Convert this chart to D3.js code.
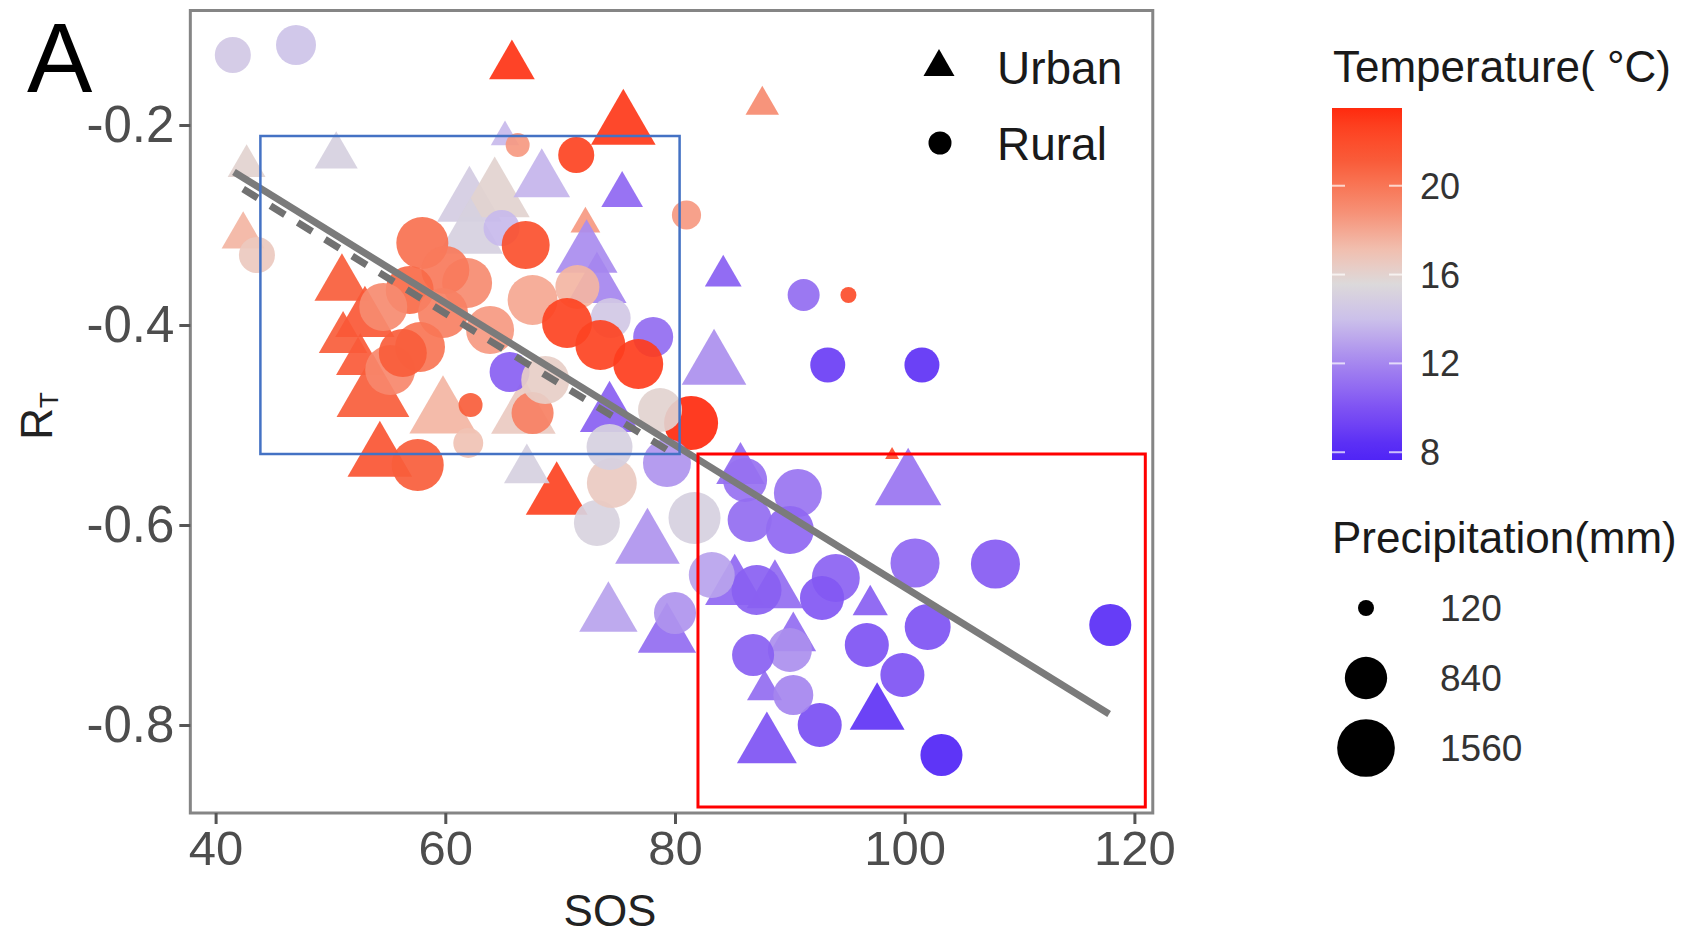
<!DOCTYPE html>
<meta charset="utf-8">
<style>
body { margin: 0; background: #fff; }
text { font-family: "Liberation Sans", Arial, sans-serif; }
.tick-label { fill: #4d4d4d; }
</style>
<body>
<div id="chart"></div>
<script src="https://d3js.org/d3.v7.min.js"></script>
<script>
// ---- data ----
// urban sites (triangles)
var urbanSos    = [65.8, 42.7, 50.5, 42.4, 65.2, 75.5, 75.4, 84.2, 83.4, 87.6, 98.9, 100.3, 97.6, 88.0, 90.3, 87.8, 97.0, 85.2, 88.7, 69.7,
                   77.6, 74.2, 79.3, 74.3, 62.1, 64.3, 68.4, 62.2, 72.2, 72.3, 73.2, 59.8, 51.0, 51.1, 52.6, 54.3, 53.7, 67.1, 66.8, 85.7, 53.0];
var urbanRt     = [-0.141, -0.241, -0.231, -0.311, -0.212, -0.201, -0.270, -0.351, -0.441, -0.180, -0.530, -0.561, -0.789, -0.821, -0.713, -0.765, -0.680, -0.663, -0.667, -0.572,
                   -0.620, -0.690, -0.711, -0.490, -0.278, -0.272, -0.256, -0.310, -0.299, -0.330, -0.361, -0.489, -0.360, -0.414, -0.436, -0.533, -0.471, -0.545, -0.490, -0.545, -0.395];
var urbanTemp   = [23.2, 16.0, 15.0, 17.5, 13.8, 23.0, 10.8, 10.5, 12.3, 19.0, 22.0, 11.3, 8.6, 10.0, 11.0, 11.0, 10.5, 10.8, 11.0, 22.5,
                   12.5, 13.0, 11.0, 10.5, 14.8, 16.0, 13.6, 15.0, 18.5, 12.2, 12.0, 17.5, 21.0, 21.0, 21.2, 21.5, 21.0, 15.0, 16.5, 11.0, 21.3];
var urbanPrecip = [540, 370, 480, 480, 210, 1080, 450, 350, 1080, 290, 50, 1140, 780, 930, 540, 320, 320, 910, 830, 990,
                   1080, 880, 880, 910, 1080, 1270, 830, 1080, 230, 990, 910, 1170, 780, 610, 610, 1080, 1370, 540, 1080, 610, 910];

// rural sites (circles)
var ruralSos    = [41.5, 47.0, 43.6, 66.3, 71.4, 81.0, 95.1, 91.2, 93.3, 101.5, 90.7, 100.9, 107.9, 117.9, 102.0, 96.7, 99.8, 103.2, 92.6, 90.3,
                   90.0, 86.8, 94.0, 92.8, 86.1, 90.0, 87.1, 86.5, 83.2, 81.7, 73.2, 74.5, 80.0, 81.4, 67.6, 78.7, 79.3, 74.3, 78.1, 65.6,
                   64.9, 74.4, 68.7, 67.0, 58.0, 71.5, 67.6, 61.9, 60.0, 56.9, 54.6, 59.8, 63.9, 55.2, 57.8, 56.3, 57.6, 62.2, 62.0, 70.6, 73.5, 76.8];
var ruralRt     = [-0.130, -0.120, -0.330, -0.220, -0.230, -0.290, -0.370, -0.370, -0.440, -0.440, -0.568, -0.638, -0.639, -0.700, -0.702, -0.720, -0.750, -0.830, -0.800, -0.770,
                   -0.725, -0.730, -0.653, -0.673, -0.555, -0.605, -0.665, -0.595, -0.650, -0.593, -0.598, -0.558, -0.688, -0.498, -0.488, -0.485, -0.538, -0.522, -0.412, -0.447,
                   -0.303, -0.393, -0.455, -0.320, -0.318, -0.362, -0.375, -0.358, -0.345, -0.365, -0.382, -0.388, -0.405, -0.445, -0.422, -0.428, -0.540, -0.480, -0.518, -0.398, -0.420, -0.439];
var ruralTemp   = [14.5, 14.2, 16.6, 18.5, 22.5, 18.5, 22.0, 11.0, 9.0, 8.5, 11.3, 10.8, 10.3, 8.3, 10.0, 10.0, 10.0, 8.0, 9.8, 12.0,
                   12.3, 10.5, 10.6, 10.2, 11.2, 10.8, 10.5, 11.0, 13.0, 15.0, 15.2, 16.5, 12.5, 23.5, 19.5, 16.0, 12.5, 15.0, 11.0, 10.5,
                   13.8, 14.5, 16.3, 21.8, 20.2, 17.5, 18.0, 19.0, 19.8, 20.5, 19.0, 19.5, 18.5, 19.2, 20.0, 21.0, 21.0, 21.0, 17.0, 22.5, 22.5, 22.8];
var ruralPrecip = [610, 750, 610, 270, 610, 400, 120, 480, 575, 575, 1080, 1130, 1130, 830, 990, 910, 910, 830, 910, 750,
                   910, 830, 1080, 910, 910, 1080, 1170, 910, 990, 1270, 990, 1170, 830, 1370, 830, 910, 1080, 990, 750, 750,
                   610, 750, 1080, 1080, 1270, 910, 1170, 1170, 1080, 1080, 1080, 1170, 1080, 1170, 1170, 1080, 1270, 270, 420, 1170, 1170, 1170];

// fitted lines: all sites (solid) and the blue-box subset (dashed)
var fitAllSos = [41.6, 117.8];
var fitAllRt  = [-0.247, -0.789];
var fitSubSos = [42.4, 80.2];
var fitSubRt  = [-0.264, -0.531];

// highlight boxes
var blueBoxSos = [43.9, 80.4];
var blueBoxRt  = [-0.211, -0.529];
var redBoxSos  = [82.0, 120.95];
var redBoxRt   = [-0.529, -0.882];

var xTicks = [40, 60, 80, 100, 120];
var yTicks = [-0.8, -0.6, -0.4, -0.2];
var tempTicks = [8, 12, 16, 20];
var tempRange = [7.65, 23.5];
var precipBreaks = [120, 840, 1560];
var shapeLabels = ["Urban", "Rural"];

// ---- scales ----
var x = d3.scaleLinear().domain([40, 120]).range([215.6, 1134.4]);
var y = d3.scaleLinear().domain([-0.2, -0.8]).range([125, 725]);
var xLim = [37.8, 121.6], yLim = [-0.0855, -0.888];

var color = d3.scaleLinear()
    .domain([8, 10, 12, 14, 15.6, 17, 19, 21, 23.5])
    .range(["#5024f6", "#7e52f3", "#a586ef", "#cbc0ea", "#dcd9da", "#f0c2b4", "#f68b70", "#f95d3b", "#ff2a0e"])
    .interpolate(d3.interpolateLab)
    .clamp(true);
var rScale = d3.scaleSqrt().domain([0, 1600]).range([0, 29.2]);

var svg = d3.select("#chart").append("svg")
    .attr("width", 1688).attr("height", 934)
    .style("background", "#fff");

// panel label
svg.append("text").attr("x", 27).attr("y", 92)
    .style("font-size", "98px").attr("fill", "#000").text("A");

// ---- points ----
var urban = urbanSos.map(function(d, i) {
  return {sos: d, rt: urbanRt[i], temp: urbanTemp[i], p: urbanPrecip[i]};
});
var rural = ruralSos.map(function(d, i) {
  return {sos: d, rt: ruralRt[i], temp: ruralTemp[i], p: ruralPrecip[i]};
});

var pts = svg.append("g").attr("class", "points");
pts.selectAll("path.urban").data(urban).enter().append("path")
    .attr("class", "urban")
    .attr("transform", function(d) { return "translate(" + x(d.sos) + "," + y(d.rt) + ")"; })
    .attr("d", function(d) {
      var r = rScale(d.p);
      return d3.symbol().type(d3.symbolTriangle).size(Math.PI * r * r)();
    })
    .attr("fill", function(d) { return color(d.temp); })
    .attr("fill-opacity", 0.92);

pts.selectAll("circle.rural").data(rural).enter().append("circle")
    .attr("class", "rural")
    .attr("cx", function(d) { return x(d.sos); })
    .attr("cy", function(d) { return y(d.rt); })
    .attr("r", function(d) { return rScale(d.p); })
    .attr("fill", function(d) { return color(d.temp); })
    .attr("fill-opacity", 0.92);

// ---- fitted lines ----
var line = d3.line().x(function(d) { return x(d[0]); }).y(function(d) { return y(d[1]); });
svg.append("path")
    .datum(d3.zip(fitSubSos, fitSubRt))
    .attr("d", line).attr("fill", "none")
    .attr("stroke", "#717171").attr("stroke-width", 7)
    .attr("stroke-dasharray", "17,15");
svg.append("path")
    .datum(d3.zip(fitAllSos, fitAllRt))
    .attr("d", line).attr("fill", "none")
    .attr("stroke", "#7b7b7b").attr("stroke-width", 7);

// ---- highlight boxes ----
svg.append("rect")
    .attr("x", x(blueBoxSos[0])).attr("y", y(blueBoxRt[0]))
    .attr("width", x(blueBoxSos[1]) - x(blueBoxSos[0]))
    .attr("height", y(blueBoxRt[1]) - y(blueBoxRt[0]))
    .attr("fill", "none").attr("stroke", "#4472c4").attr("stroke-width", 2.5);
svg.append("rect")
    .attr("x", x(redBoxSos[0])).attr("y", y(redBoxRt[0]))
    .attr("width", x(redBoxSos[1]) - x(redBoxSos[0]))
    .attr("height", y(redBoxRt[1]) - y(redBoxRt[0]))
    .attr("fill", "none").attr("stroke", "#ff0000").attr("stroke-width", 3);

// ---- panel border and axes ----
svg.append("rect")
    .attr("x", x(xLim[0])).attr("y", y(yLim[0]))
    .attr("width", x(xLim[1]) - x(xLim[0]))
    .attr("height", y(yLim[1]) - y(yLim[0]))
    .attr("fill", "none").attr("stroke", "#858585").attr("stroke-width", 3);

var xAxis = svg.append("g")
    .attr("transform", "translate(0," + y(yLim[1]) + ")")
    .call(d3.axisBottom(x).tickValues(xTicks).tickSize(11).tickPadding(6));
var yAxis = svg.append("g")
    .attr("transform", "translate(" + x(xLim[0]) + ",0)")
    .call(d3.axisLeft(y).tickValues(yTicks).tickSize(11).tickPadding(5).tickFormat(d3.format(".1f")));
[xAxis, yAxis].forEach(function(g) {
  g.select(".domain").remove();
  g.selectAll(".tick line").attr("stroke", "#555").attr("stroke-width", 3);
  g.selectAll(".tick text").attr("class", "tick-label")
      .style("font-size", "49px").style("font-family", "Liberation Sans, Arial, sans-serif");
});
yAxis.selectAll(".tick text")
    .text(function(d) { return d3.format(".1f")(d).replace("−", "-"); })
    .style("font-size", "51px");

svg.append("text").attr("x", 610).attr("y", 926).attr("text-anchor", "middle")
    .style("font-size", "44px").attr("fill", "#222").text("SOS");

var yl = svg.append("text")
    .attr("transform", "translate(52,416) rotate(-90)")
    .attr("text-anchor", "middle")
    .style("font-size", "44px").attr("fill", "#222");
yl.append("tspan").text("R");
yl.append("tspan").attr("dy", 6).style("font-size", "26px").text("T");

// ---- shape legend ----
var shapeLeg = svg.append("g");
shapeLabels.forEach(function(lab, i) {
  var cy = i === 0 ? 67 : 143;
  if (i === 0) {
    shapeLeg.append("path")
        .attr("transform", "translate(939," + cy + ")")
        .attr("d", d3.symbol().type(d3.symbolTriangle).size(Math.PI * 11.5 * 11.5)())
        .attr("fill", "#000");
  } else {
    shapeLeg.append("circle").attr("cx", 940).attr("cy", cy).attr("r", 11.5).attr("fill", "#000");
  }
  shapeLeg.append("text").attr("x", 997).attr("y", cy + 17)
      .style("font-size", "46px").attr("fill", "#1a1a1a").text(lab);
});

// ---- colourbar ----
var cbX = 1332, cbW = 70, cbTop = 108, cbBot = 460;
var cb = d3.scaleLinear().domain(tempRange).range([cbBot, cbTop]);
svg.append("text").attr("x", 1333).attr("y", 82)
    .style("font-size", "44px").attr("fill", "#1a1a1a").text("Temperature( °C)");
var grad = svg.append("defs").append("linearGradient")
    .attr("id", "tempGrad").attr("x1", 0).attr("y1", 1).attr("x2", 0).attr("y2", 0);
d3.range(0, 1.0001, 0.05).forEach(function(t) {
  var v = tempRange[0] + t * (tempRange[1] - tempRange[0]);
  grad.append("stop").attr("offset", t).attr("stop-color", color(v));
});
svg.append("rect").attr("x", cbX).attr("y", cbTop).attr("width", cbW).attr("height", cbBot - cbTop)
    .attr("fill", "url(#tempGrad)");
tempTicks.forEach(function(t) {
  var ty = cb(t);
  svg.append("line").attr("x1", cbX).attr("x2", cbX + 13).attr("y1", ty).attr("y2", ty)
      .attr("stroke", "#fff").attr("stroke-opacity", 0.7).attr("stroke-width", 2);
  svg.append("line").attr("x1", cbX + cbW - 13).attr("x2", cbX + cbW).attr("y1", ty).attr("y2", ty)
      .attr("stroke", "#fff").attr("stroke-opacity", 0.7).attr("stroke-width", 2);
  svg.append("text").attr("x", 1420).attr("y", ty + 13)
      .style("font-size", "36px").attr("fill", "#333").text(t);
});

// ---- size legend ----
svg.append("text").attr("x", 1332).attr("y", 553)
    .style("font-size", "44px").attr("fill", "#1a1a1a").text("Precipitation(mm)");
var sizeY = [608, 678, 748];
precipBreaks.forEach(function(p, i) {
  svg.append("circle").attr("cx", 1366).attr("cy", sizeY[i]).attr("r", rScale(p)).attr("fill", "#000");
  svg.append("text").attr("x", 1440).attr("y", sizeY[i] + 13)
      .style("font-size", "37px").attr("fill", "#333").text(p);
});
</script>
</body>
